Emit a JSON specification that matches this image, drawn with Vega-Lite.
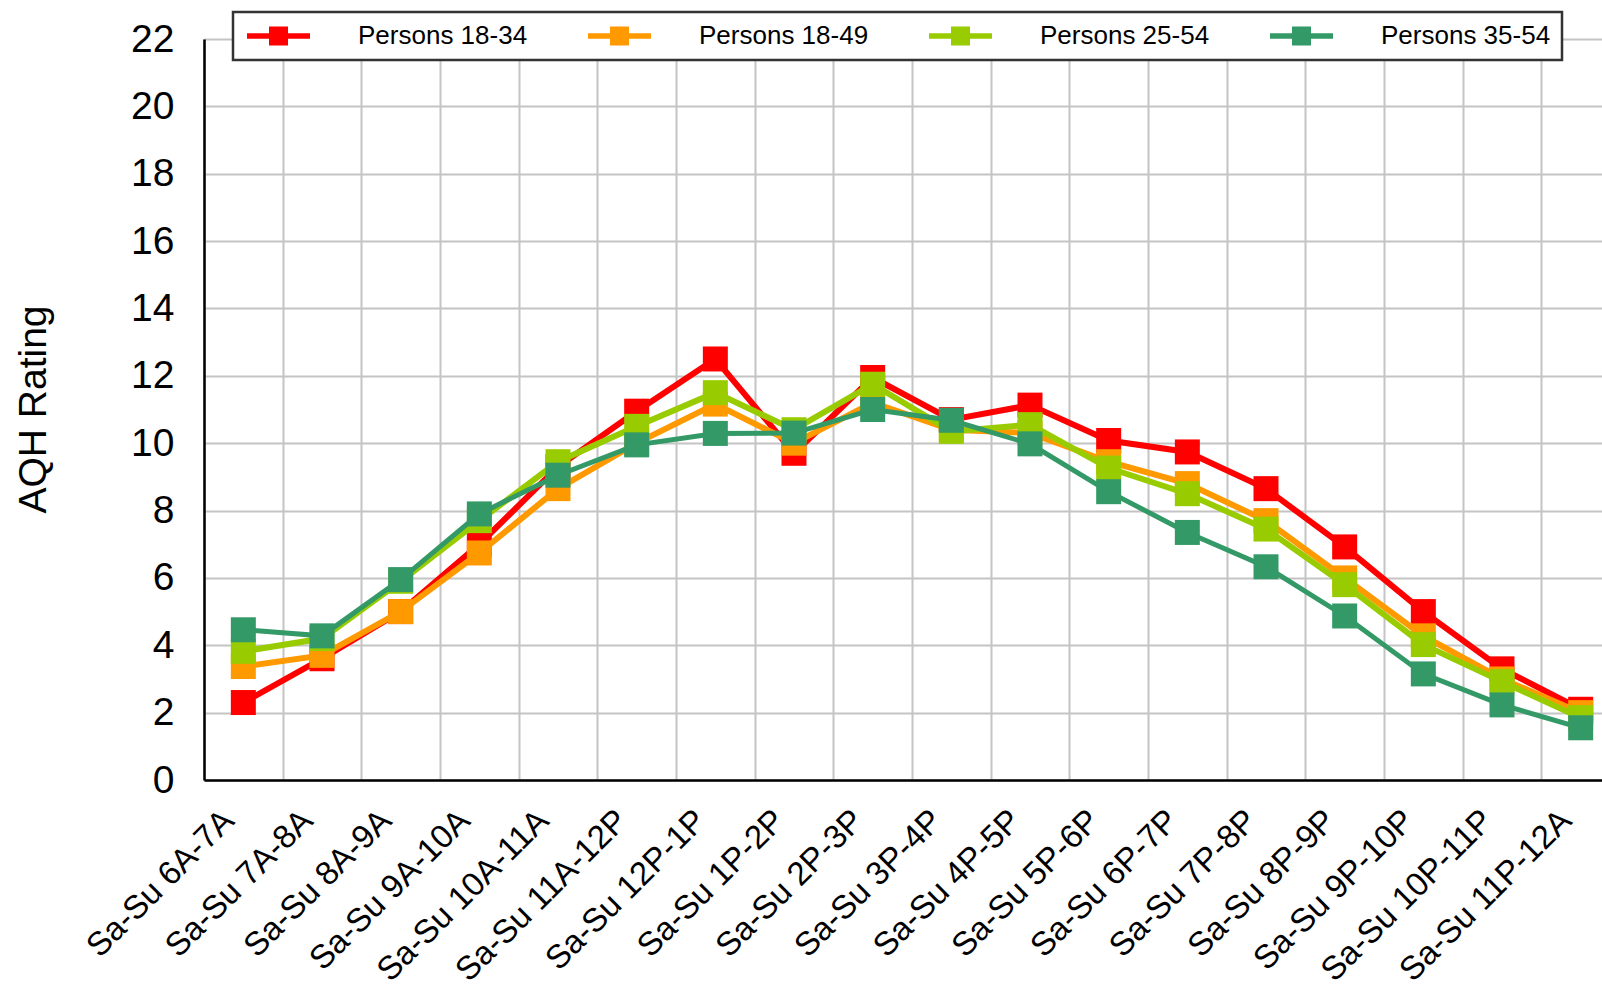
{
  "$schema": "https://vega.github.io/schema/vega-lite/v6.json",
  "autosize": {"type": "none"},
  "width": 1398,
  "height": 741,
  "padding": {"left": 204, "top": 39, "right": 0, "bottom": 204},
  "background": "white",
  "config": {
    "view": {"stroke": null},
    "font": "Liberation Sans",
    "legend": {"strokeColor": "#333333", "strokeWidth": 2.5, "fillColor": "white"}
  },
  "data": {
    "values": [
      {"slot": "Sa-Su 6A-7A", "series": "Persons 18-34", "v": 2.3},
      {"slot": "Sa-Su 7A-8A", "series": "Persons 18-34", "v": 3.6},
      {"slot": "Sa-Su 8A-9A", "series": "Persons 18-34", "v": 5.0},
      {"slot": "Sa-Su 9A-10A", "series": "Persons 18-34", "v": 7.0},
      {"slot": "Sa-Su 10A-11A", "series": "Persons 18-34", "v": 9.3},
      {"slot": "Sa-Su 11A-12P", "series": "Persons 18-34", "v": 10.95},
      {"slot": "Sa-Su 12P-1P", "series": "Persons 18-34", "v": 12.5},
      {"slot": "Sa-Su 1P-2P", "series": "Persons 18-34", "v": 9.7},
      {"slot": "Sa-Su 2P-3P", "series": "Persons 18-34", "v": 11.95},
      {"slot": "Sa-Su 3P-4P", "series": "Persons 18-34", "v": 10.7},
      {"slot": "Sa-Su 4P-5P", "series": "Persons 18-34", "v": 11.13},
      {"slot": "Sa-Su 5P-6P", "series": "Persons 18-34", "v": 10.08},
      {"slot": "Sa-Su 6P-7P", "series": "Persons 18-34", "v": 9.74},
      {"slot": "Sa-Su 7P-8P", "series": "Persons 18-34", "v": 8.65},
      {"slot": "Sa-Su 8P-9P", "series": "Persons 18-34", "v": 6.92},
      {"slot": "Sa-Su 9P-10P", "series": "Persons 18-34", "v": 5.0},
      {"slot": "Sa-Su 10P-11P", "series": "Persons 18-34", "v": 3.3},
      {"slot": "Sa-Su 11P-12A", "series": "Persons 18-34", "v": 2.1},
      {"slot": "Sa-Su 6A-7A", "series": "Persons 18-49", "v": 3.37},
      {"slot": "Sa-Su 7A-8A", "series": "Persons 18-49", "v": 3.7},
      {"slot": "Sa-Su 8A-9A", "series": "Persons 18-49", "v": 5.0},
      {"slot": "Sa-Su 9A-10A", "series": "Persons 18-49", "v": 6.74},
      {"slot": "Sa-Su 10A-11A", "series": "Persons 18-49", "v": 8.65},
      {"slot": "Sa-Su 11A-12P", "series": "Persons 18-49", "v": 10.0},
      {"slot": "Sa-Su 12P-1P", "series": "Persons 18-49", "v": 11.16},
      {"slot": "Sa-Su 1P-2P", "series": "Persons 18-49", "v": 10.0},
      {"slot": "Sa-Su 2P-3P", "series": "Persons 18-49", "v": 11.2},
      {"slot": "Sa-Su 3P-4P", "series": "Persons 18-49", "v": 10.4},
      {"slot": "Sa-Su 4P-5P", "series": "Persons 18-49", "v": 10.3},
      {"slot": "Sa-Su 5P-6P", "series": "Persons 18-49", "v": 9.45},
      {"slot": "Sa-Su 6P-7P", "series": "Persons 18-49", "v": 8.8},
      {"slot": "Sa-Su 7P-8P", "series": "Persons 18-49", "v": 7.7},
      {"slot": "Sa-Su 8P-9P", "series": "Persons 18-49", "v": 6.0},
      {"slot": "Sa-Su 9P-10P", "series": "Persons 18-49", "v": 4.28},
      {"slot": "Sa-Su 10P-11P", "series": "Persons 18-49", "v": 3.0},
      {"slot": "Sa-Su 11P-12A", "series": "Persons 18-49", "v": 2.0},
      {"slot": "Sa-Su 6A-7A", "series": "Persons 25-54", "v": 3.82},
      {"slot": "Sa-Su 7A-8A", "series": "Persons 25-54", "v": 4.2},
      {"slot": "Sa-Su 8A-9A", "series": "Persons 25-54", "v": 5.9},
      {"slot": "Sa-Su 9A-10A", "series": "Persons 25-54", "v": 7.7},
      {"slot": "Sa-Su 10A-11A", "series": "Persons 25-54", "v": 9.45},
      {"slot": "Sa-Su 11A-12P", "series": "Persons 25-54", "v": 10.5},
      {"slot": "Sa-Su 12P-1P", "series": "Persons 25-54", "v": 11.5},
      {"slot": "Sa-Su 1P-2P", "series": "Persons 25-54", "v": 10.4},
      {"slot": "Sa-Su 2P-3P", "series": "Persons 25-54", "v": 11.75},
      {"slot": "Sa-Su 3P-4P", "series": "Persons 25-54", "v": 10.35},
      {"slot": "Sa-Su 4P-5P", "series": "Persons 25-54", "v": 10.55},
      {"slot": "Sa-Su 5P-6P", "series": "Persons 25-54", "v": 9.26},
      {"slot": "Sa-Su 6P-7P", "series": "Persons 25-54", "v": 8.5},
      {"slot": "Sa-Su 7P-8P", "series": "Persons 25-54", "v": 7.45},
      {"slot": "Sa-Su 8P-9P", "series": "Persons 25-54", "v": 5.8},
      {"slot": "Sa-Su 9P-10P", "series": "Persons 25-54", "v": 4.02},
      {"slot": "Sa-Su 10P-11P", "series": "Persons 25-54", "v": 2.92},
      {"slot": "Sa-Su 11P-12A", "series": "Persons 25-54", "v": 1.85},
      {"slot": "Sa-Su 6A-7A", "series": "Persons 35-54", "v": 4.46},
      {"slot": "Sa-Su 7A-8A", "series": "Persons 35-54", "v": 4.28},
      {"slot": "Sa-Su 8A-9A", "series": "Persons 35-54", "v": 5.95},
      {"slot": "Sa-Su 9A-10A", "series": "Persons 35-54", "v": 7.9},
      {"slot": "Sa-Su 10A-11A", "series": "Persons 35-54", "v": 9.05},
      {"slot": "Sa-Su 11A-12P", "series": "Persons 35-54", "v": 9.95},
      {"slot": "Sa-Su 12P-1P", "series": "Persons 35-54", "v": 10.29},
      {"slot": "Sa-Su 1P-2P", "series": "Persons 35-54", "v": 10.3},
      {"slot": "Sa-Su 2P-3P", "series": "Persons 35-54", "v": 11.0},
      {"slot": "Sa-Su 3P-4P", "series": "Persons 35-54", "v": 10.68},
      {"slot": "Sa-Su 4P-5P", "series": "Persons 35-54", "v": 9.98},
      {"slot": "Sa-Su 5P-6P", "series": "Persons 35-54", "v": 8.56},
      {"slot": "Sa-Su 6P-7P", "series": "Persons 35-54", "v": 7.35},
      {"slot": "Sa-Su 7P-8P", "series": "Persons 35-54", "v": 6.33},
      {"slot": "Sa-Su 8P-9P", "series": "Persons 35-54", "v": 4.87},
      {"slot": "Sa-Su 9P-10P", "series": "Persons 35-54", "v": 3.15},
      {"slot": "Sa-Su 10P-11P", "series": "Persons 35-54", "v": 2.23},
      {"slot": "Sa-Su 11P-12A", "series": "Persons 35-54", "v": 1.55}
    ]
  },
  "encoding": {
    "x": {
      "field": "slot",
      "type": "nominal",
      "sort": ["Sa-Su 6A-7A","Sa-Su 7A-8A","Sa-Su 8A-9A","Sa-Su 9A-10A","Sa-Su 10A-11A","Sa-Su 11A-12P","Sa-Su 12P-1P","Sa-Su 1P-2P","Sa-Su 2P-3P","Sa-Su 3P-4P","Sa-Su 4P-5P","Sa-Su 5P-6P","Sa-Su 6P-7P","Sa-Su 7P-8P","Sa-Su 8P-9P","Sa-Su 9P-10P","Sa-Su 10P-11P","Sa-Su 11P-12A"],
      "scale": {"type": "band", "paddingInner": 0, "paddingOuter": 0, "range": [0, 1416]},
      "axis": {
        "title": null,
        "tickBand": "extent",
        "ticks": false,
        "grid": true,
        "gridColor": "#c4c4c4",
        "gridWidth": 2,
        "domainColor": "black",
        "domainWidth": 2.5,
        "labelAngle": -45,
        "labelAlign": "right",
        "labelBaseline": "middle",
        "labelPadding": 35,
        "labelOffset": -15,
        "labelFontSize": 33,
        "labelFont": "Liberation Sans",
        "labelColor": "black",
        "labelLimit": 400
      }
    },
    "y": {
      "field": "v",
      "type": "quantitative",
      "scale": {"domain": [0, 22], "nice": false, "zero": true},
      "axis": {
        "title": "AQH Rating",
        "titleFontSize": 39,
        "titleFontWeight": "normal",
        "titleFont": "Liberation Sans",
        "titleColor": "black",
        "titleAngle": -90,
        "titleX": -171,
        "titleY": 370,
        "titleAlign": "center",
        "titleBaseline": "middle",
        "values": [0, 2, 4, 6, 8, 10, 12, 14, 16, 18, 20, 22],
        "ticks": false,
        "grid": true,
        "gridColor": "#c4c4c4",
        "gridWidth": 2,
        "domainColor": "black",
        "domainWidth": 2.5,
        "labelPadding": 30,
        "labelFontSize": 39,
        "labelFont": "Liberation Sans",
        "labelColor": "black"
      }
    },
    "color": {
      "field": "series",
      "type": "nominal",
      "scale": {
        "domain": ["Persons 18-34", "Persons 18-49", "Persons 25-54", "Persons 35-54"],
        "range": ["#ff0000", "#ff9900", "#99cc00", "#339966"]
      },
      "legend": {
        "orient": "none",
        "legendX": 29,
        "legendY": -27,
        "direction": "horizontal",
        "columns": 4,
        "title": null,
        "symbolType": "M-1,-0.28H5.3V0.28H-1Z M1.2,-0.95H3.1V0.95H1.2Z",
        "symbolSize": 400,
        "symbolStrokeWidth": 0,
        "labelFontSize": 26,
        "labelFont": "Liberation Sans",
        "labelColor": "black",
        "labelLimit": 400,
        "labelOffset": 88,
        "columnPadding": 57,
        "padding": 11,
        "encode": {
          "symbols": {
            "update": {
              "fill": {"scale": "color", "field": "value"},
              "stroke": {"value": "transparent"},
              "opacity": {"value": 1}
            }
          }
        }
      }
    }
  },
  "layer": [
    {
      "transform": [{"filter": "datum.series === 'Persons 18-34'"}],
      "layer": [
        {"mark": {"type": "line", "strokeWidth": 6}},
        {"mark": {"type": "point", "shape": "square", "filled": true, "size": 625, "opacity": 1}}
      ]
    },
    {
      "transform": [{"filter": "datum.series === 'Persons 18-49'"}],
      "layer": [
        {"mark": {"type": "line", "strokeWidth": 6}},
        {"mark": {"type": "point", "shape": "square", "filled": true, "size": 625, "opacity": 1}}
      ]
    },
    {
      "transform": [{"filter": "datum.series === 'Persons 25-54'"}],
      "layer": [
        {"mark": {"type": "line", "strokeWidth": 6}},
        {"mark": {"type": "point", "shape": "square", "filled": true, "size": 625, "opacity": 1}}
      ]
    },
    {
      "transform": [{"filter": "datum.series === 'Persons 35-54'"}],
      "layer": [
        {"mark": {"type": "line", "strokeWidth": 5}},
        {"mark": {"type": "point", "shape": "square", "filled": true, "size": 625, "opacity": 1}}
      ]
    }
  ]
}
